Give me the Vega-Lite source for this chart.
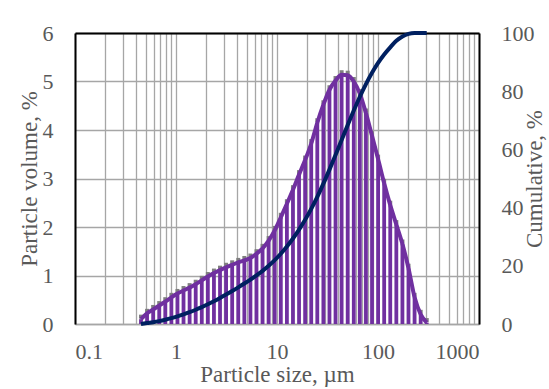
{
  "$schema": "https://vega.github.io/schema/vega-lite/v6.json",
  "width": 404,
  "height": 291,
  "autosize": "none",
  "padding": {"left": 75, "top": 33, "right": 70, "bottom": 65},
  "background": "white",
  "config": {
    "view": {"stroke": null},
    "font": "Times New Roman, Liberation Serif, serif",
    "axis": {
      "labelFont": "Times New Roman, Liberation Serif, serif",
      "titleFont": "Times New Roman, Liberation Serif, serif",
      "labelColor": "#595959",
      "titleColor": "#595959",
      "labelFontSize": 22,
      "titleFontSize": 23,
      "titleFontWeight": "normal",
      "ticks": false
    }
  },
  "data": {
    "values": [
      {"size": 0.450, "vol": 0.10, "cum": 0},
      {"size": 0.517, "vol": 0.22, "cum": 0.32},
      {"size": 0.594, "vol": 0.30, "cum": 0.62},
      {"size": 0.682, "vol": 0.38, "cum": 1.00},
      {"size": 0.783, "vol": 0.46, "cum": 1.46},
      {"size": 0.900, "vol": 0.55, "cum": 2.01},
      {"size": 1.034, "vol": 0.63, "cum": 2.64},
      {"size": 1.187, "vol": 0.69, "cum": 3.33},
      {"size": 1.364, "vol": 0.75, "cum": 4.08},
      {"size": 1.567, "vol": 0.82, "cum": 4.90},
      {"size": 1.800, "vol": 0.90, "cum": 5.80},
      {"size": 2.067, "vol": 0.98, "cum": 6.78},
      {"size": 2.375, "vol": 1.05, "cum": 7.83},
      {"size": 2.728, "vol": 1.11, "cum": 8.94},
      {"size": 3.133, "vol": 1.17, "cum": 10.11},
      {"size": 3.599, "vol": 1.22, "cum": 11.33},
      {"size": 4.134, "vol": 1.27, "cum": 12.60},
      {"size": 4.749, "vol": 1.31, "cum": 13.91},
      {"size": 5.455, "vol": 1.36, "cum": 15.27},
      {"size": 6.266, "vol": 1.45, "cum": 16.72},
      {"size": 7.198, "vol": 1.56, "cum": 18.28},
      {"size": 8.268, "vol": 1.72, "cum": 20.00},
      {"size": 9.497, "vol": 1.93, "cum": 21.93},
      {"size": 10.91, "vol": 2.20, "cum": 24.13},
      {"size": 12.53, "vol": 2.48, "cum": 26.61},
      {"size": 14.39, "vol": 2.77, "cum": 29.38},
      {"size": 16.53, "vol": 3.08, "cum": 32.46},
      {"size": 18.99, "vol": 3.38, "cum": 35.84},
      {"size": 21.82, "vol": 3.72, "cum": 39.56},
      {"size": 25.06, "vol": 4.15, "cum": 43.71},
      {"size": 28.79, "vol": 4.52, "cum": 48.23},
      {"size": 33.07, "vol": 4.83, "cum": 53.06},
      {"size": 37.98, "vol": 5.02, "cum": 58.08},
      {"size": 43.63, "vol": 5.14, "cum": 63.22},
      {"size": 50.12, "vol": 5.13, "cum": 68.35},
      {"size": 57.57, "vol": 5.00, "cum": 73.35},
      {"size": 66.13, "vol": 4.75, "cum": 78.10},
      {"size": 75.96, "vol": 4.35, "cum": 82.45},
      {"size": 87.26, "vol": 3.88, "cum": 86.33},
      {"size": 100.2, "vol": 3.40, "cum": 89.73},
      {"size": 115.1, "vol": 2.90, "cum": 92.63},
      {"size": 132.2, "vol": 2.45, "cum": 95.08},
      {"size": 151.9, "vol": 2.05, "cum": 97.3},
      {"size": 174.5, "vol": 1.65, "cum": 98.8},
      {"size": 200.4, "vol": 1.15, "cum": 99.7},
      {"size": 230.2, "vol": 0.55, "cum": 100},
      {"size": 264.5, "vol": 0.20, "cum": 100},
      {"size": 303.8, "vol": 0.03, "cum": 100}
    ]
  },
  "layer": [
    {
      "encoding": {
        "x": {
          "field": "size",
          "type": "quantitative",
          "scale": {"type": "log", "domain": [0.1, 1000], "nice": false},
          "axis": {
            "orient": "bottom",
            "values": [0.1,0.2,0.3,0.4,0.5,0.6,0.7,0.8,0.9,1,2,3,4,5,6,7,8,9,10,20,30,40,50,60,70,80,90,100,200,300,400,500,600,700,800,900,1000],
            "grid": true,
            "gridColor": "#a6a6a6",
            "gridWidth": 1.3,
            "domainColor": "#a6a6a6",
            "domainWidth": 1.3,
            "labelExpr": "indexof([0.1,1,10,100,1000], datum.value) >= 0 ? datum.value + '' : ''",
            "labelOverlap": false,
            "labelPadding": 17,
            "title": "Particle size, µm",
            "titlePadding": 1
          }
        },
        "y": {
          "field": "vol",
          "type": "quantitative",
          "scale": {"domain": [0, 6], "nice": false},
          "axis": {
            "orient": "left",
            "values": [0,1,2,3,4,5,6],
            "grid": true,
            "gridColor": "#a6a6a6",
            "gridWidth": 1.3,
            "domainColor": "#000000",
            "domainWidth": 2,
            "labelPadding": 22,
            "title": "Particle volume, %",
            "titlePadding": 1
          }
        }
      },
      "layer": [
        {"mark": {"type": "square", "color": "#7f7f7f", "size": 16, "opacity": 1, "yOffset": -2.5}},
        {"mark": {"type": "rule", "color": "#7030A0", "strokeWidth": 3.8}, "encoding": {"y2": {"datum": 0}}},
        {"mark": {"type": "line", "color": "#7030A0", "strokeWidth": 4, "interpolate": "monotone"}}
      ]
    },
    {
      "mark": {"type": "line", "color": "#002060", "strokeWidth": 4, "interpolate": "monotone"},
      "encoding": {
        "x": {
          "field": "size",
          "type": "quantitative",
          "scale": {"type": "log", "domain": [0.1, 1000], "nice": false},
          "axis": {"orient": "top", "labels": false, "grid": false, "domainColor": "#000000", "domainWidth": 2, "title": null, "values": []}
        },
        "y": {
          "field": "cum",
          "type": "quantitative",
          "scale": {"domain": [0, 100], "nice": false},
          "axis": {
            "orient": "right",
            "values": [0,20,40,60,80,100],
            "grid": false,
            "domainColor": "#000000",
            "domainWidth": 2,
            "labelPadding": 22,
            "title": "Cumulative, %",
            "titleAngle": 270,
            "titlePadding": 12
          }
        }
      }
    }
  ],
  "resolve": {"scale": {"y": "independent"}, "axis": {"x": "independent"}}
}
